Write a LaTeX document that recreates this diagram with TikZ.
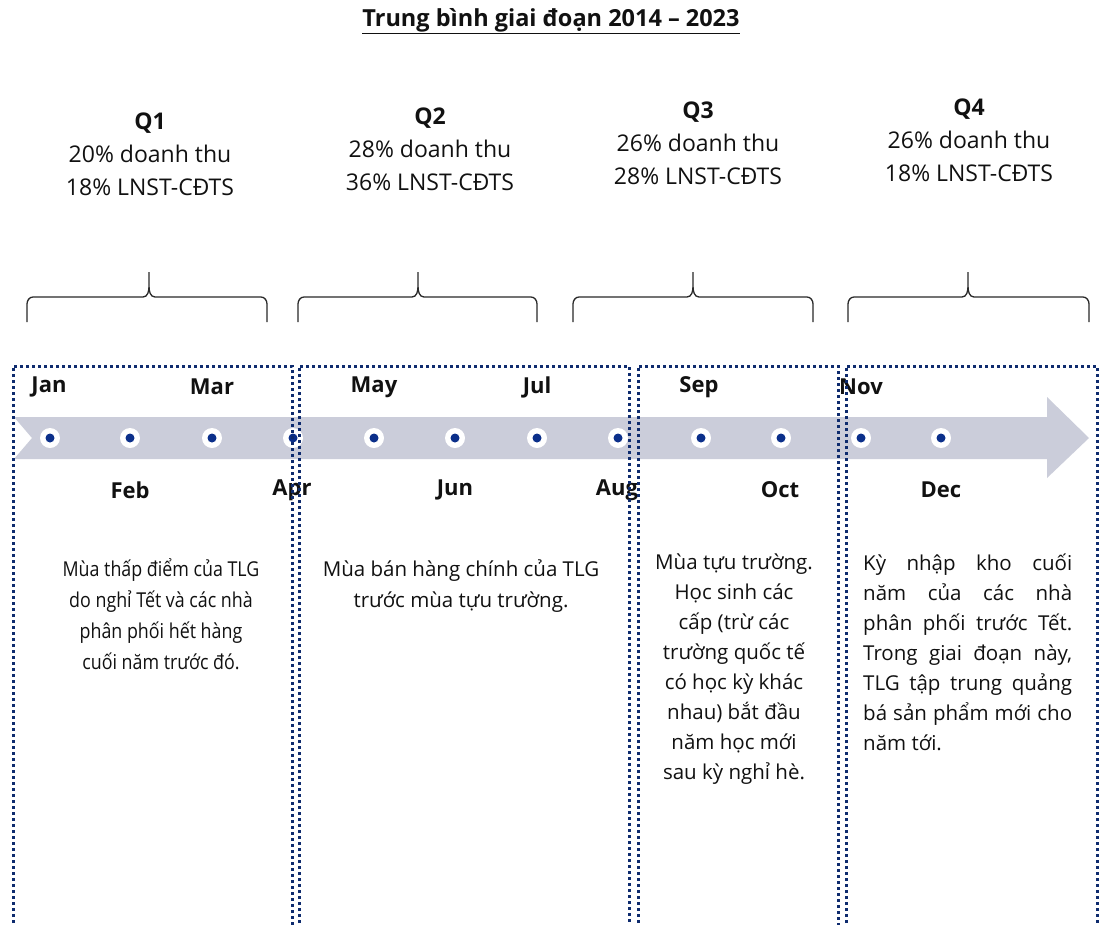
\documentclass[tikz,border=0pt]{standalone}
\usepackage{fontspec}
\setmainfont{Open Sans}
\newfontfamily\condfont{Open Sans}[FakeStretch=0.87]
\definecolor{band}{HTML}{CBCDDA}
\definecolor{navy}{HTML}{0B2F8A}
\definecolor{boxnavy}{HTML}{0E2B6E}
\definecolor{ink}{HTML}{111111}
\begin{document}
\begin{tikzpicture}[x=1pt,y=-1pt,
  ttl/.style={font=\fontsize{23.5}{26}\selectfont\bfseries, text=ink, inner sep=0pt},
  qtxt/.style={font=\fontsize{23}{33}\selectfont, text=ink, align=center, inner sep=0pt, anchor=north},
  month/.style={font=\fontsize{22}{24}\selectfont\bfseries, text=ink, inner sep=0pt},
  desc/.style={font=\fontsize{20.5}{31}\selectfont, text=ink, align=center, inner sep=0pt, anchor=north},
  brace/.style={draw=ink!90, line width=1.3pt},
  dotbox/.style={draw=boxnavy, line width=3pt, dash pattern=on 3pt off 3pt},
  outerdot/.style={circle, fill=white, minimum size=20pt, inner sep=0pt},
  innerdot/.style={circle, fill=navy, minimum size=9pt, inner sep=0pt}
]
\useasboundingbox (0,0) rectangle (1103,924);
\begin{scope}
\clip (0,0) rectangle (1103,924);
\fill[white] (0,0) rectangle (1103,924);

% title
\node[ttl] (title) at (551,21) {\underline{Trung bình giai đoạn 2014 – 2023}};

% quarter texts
\node[qtxt] (q1) at (150,113) {\textbf{Q1}\\20\% doanh thu\\18\% LNST-CĐTS};
\node[qtxt] (q2) at (430,108) {\textbf{Q2}\\28\% doanh thu\\36\% LNST-CĐTS};
\node[qtxt] (q3) at (698,102) {\textbf{Q3}\\26\% doanh thu\\28\% LNST-CĐTS};
\node[qtxt] (q4) at (969,99) {\textbf{Q4}\\26\% doanh thu\\18\% LNST-CĐTS};

% braces
\foreach \xa/\xm/\xb in {27/149/267, 298/418/537, 573/693/813, 848/968/1089}{
  \draw[brace] (\xa,322) -- (\xa,304) to[out=90,in=180] (\xa+6,297) -- (\xm-6,297)
     to[out=0,in=-90] (\xm,286) -- (\xm,272) -- (\xm,286)
     to[out=-90,in=180] (\xm+6,297) -- (\xb-6,297) to[out=0,in=90] (\xb,304) -- (\xb,322);
}

% timeline band arrow
\fill[band] (14,417) -- (32,438) -- (14,459) -- (1047,459) -- (1047,478) -- (1089,438)
   -- (1047,397) -- (1047,417) -- cycle;

% month dots
\foreach \i/\x in {1/50,2/130,3/212,4/293,5/374,6/455,7/537,8/618,9/701,10/781,11/861,12/941}{
  \node[outerdot] (o\i) at (\x,438) {};
  \node[innerdot] (d\i) at (o\i) {};
}

% month labels
\node[month] (jan) at (49,387) {Jan};
\node[month] (mar) at (212,387) {Mar};
\node[month] (may) at (374,387) {May};
\node[month] (jul) at (537,387) {Jul};
\node[month] (sep) at (699,387) {Sep};
\node[month] (nov) at (861,387) {Nov};
\node[month] (feb) at (130,490) {Feb};
\node[month] (apr) at (292,490) {Apr};
\node[month] (jun) at (455,490) {Jun};
\node[month] (aug) at (617,490) {Aug};
\node[month] (oct) at (780,490) {Oct};
\node[month] (dec) at (941,490) {Dec};

% descriptions
\node[desc, font=\fontsize{20.5}{31}\selectfont\condfont] (t1) at (161,558) {Mùa thấp điểm của TLG\\do nghỉ Tết và các nhà\\phân phối hết hàng\\cuối năm trước đó.};
\node[desc] (t2) at (461,559) {Mùa bán hàng chính của TLG\\trước mùa tựu trường.};
\node[desc, font=\fontsize{20.5}{30}\selectfont] (t3) at (734,554) {Mùa tựu trường.\\Học sinh các\\cấp (trừ các\\trường quốc tế\\có học kỳ khác\\nhau) bắt đầu\\năm học mới\\sau kỳ nghỉ hè.};
\node[desc, font=\fontsize{20.5}{30}\selectfont, align=left, anchor=north west] (t4) at (863,554) {%
\makebox[209pt][s]{Kỳ nhập kho cuối}\\
\makebox[209pt][s]{năm của các nhà}\\
\makebox[209pt][s]{phân phối trước Tết.}\\
\makebox[209pt][s]{Trong giai đoạn này,}\\
\makebox[209pt][s]{TLG tập trung quảng}\\
\makebox[209pt][s]{bá sản phẩm mới cho}\\
năm tới.};

% dotted season boxes
\draw[dotbox] (13,935) -- (13,366) -- (292,366) -- (292,935);
\draw[dotbox] (299,935) -- (299,366) -- (629,366) -- (629,935);
\draw[dotbox] (638,935) -- (638,366) -- (838,366) -- (838,935);
\draw[dotbox] (846,935) -- (846,366) -- (1097,366) -- (1097,935);
\end{scope}
\end{tikzpicture}
\end{document}
